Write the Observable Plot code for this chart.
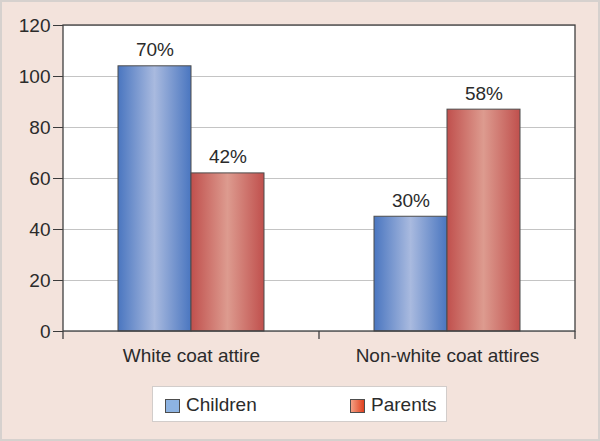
<!DOCTYPE html>
<html><head><meta charset="utf-8">
<script src="https://cdn.jsdelivr.net/npm/d3@7"></script>
<script src="https://cdn.jsdelivr.net/npm/@observablehq/plot@0.6"></script>
<style>
html,body{margin:0;padding:0;}
body{width:600px;height:441px;overflow:hidden;background:#f3e3dc;font-family:"Liberation Sans",Arial,sans-serif;}
#wrap{position:relative;width:600px;height:441px;}
#chart svg{display:block;}
#edge{position:absolute;left:0;top:0;width:600px;height:441px;box-sizing:border-box;border:2px solid #d6d1ce;pointer-events:none;}
#legend{position:absolute;left:152px;top:386px;width:295px;height:36px;box-sizing:border-box;background:#fff;border:1px solid #d2cdcb;}
#legend .sw{position:absolute;top:12px;width:15px;height:14px;box-sizing:border-box;border:1px solid #4d4d4d;}
#legend .lb{position:absolute;top:8px;font-size:19px;line-height:19px;color:#2b2b2b;white-space:nowrap;}
</style>
</head><body>
<div id="wrap">
  <div id="chart"></div>
  <div id="legend"></div>
  <div id="edge"></div>
</div>
<script>
const categories = ["White coat attire", "Non-white coat attires"];
const seriesNames = ["Children", "Parents"];
const childrenValues = [104, 45];
const parentsValues = [62, 87];
const childrenLabels = ["70%", "30%"];
const parentsLabels = ["42%", "58%"];
const yTicks = [0, 20, 40, 60, 80, 100, 120];
const seriesFill = {Children: "url(#gradBlue)", Parents: "url(#gradRed)"};
const legendSwatch = {Children: "#8db3e2", Parents: "linear-gradient(90deg,#f4a084,#e0401e)"};

const data = categories.flatMap((c, i) => [
  {category: c, series: "Children", value: childrenValues[i], label: childrenLabels[i]},
  {category: c, series: "Parents", value: parentsValues[i], label: parentsLabels[i]}
]);

const plot = Plot.plot({
  width: 600, height: 441,
  marginLeft: 62, marginRight: 25, marginTop: 25, marginBottom: 110,
  style: {background: "transparent", fontFamily: "'Liberation Sans', Arial, sans-serif", fontSize: "19px", color: "#2b2b2b", overflow: "visible"},
  fx: {domain: categories, padding: 0, label: null},
  x: {domain: seriesNames, paddingInner: 0, paddingOuter: 0.75, axis: null},
  y: {domain: [0, 120], label: null},
  color: {type: "identity"},
  marks: [
    Plot.gridY(yTicks, {stroke: "#c4c4c4", strokeOpacity: 1}),
    Plot.barY(data, {fx: "category", x: "series", y: "value", fill: d => seriesFill[d.series], stroke: "#4d4d4d", strokeWidth: 1}),
    Plot.text(data, {fx: "category", x: "series", y: "value", text: "label", dy: -16, fontSize: 19, fill: "#2b2b2b"}),
    Plot.axisY(yTicks, {tickSize: 10, tickPadding: 3, fontSize: 19, stroke: "#3a3a3a", fill: "#2b2b2b"}),
    Plot.axisFx({anchor: "bottom", tickSize: 0, tickPadding: 17, fontSize: 19, label: null, fill: "#2b2b2b"})
  ]
});
document.getElementById("chart").appendChild(plot);

// gradients, plot-area background, frame, category boundary ticks
const svg = d3.select(plot);
const defs = svg.insert("defs", ":first-child");
function grad(id, edge, mid) {
  const g = defs.append("linearGradient").attr("id", id).attr("x1", "0").attr("x2", "1").attr("y1", "0").attr("y2", "0");
  g.append("stop").attr("offset", "0%").attr("stop-color", edge);
  g.append("stop").attr("offset", "50%").attr("stop-color", mid);
  g.append("stop").attr("offset", "100%").attr("stop-color", edge);
}
grad("gradBlue", "#4a76c0", "#a9badf");
grad("gradRed", "#c0504d", "#dd9b8f");

const ys = plot.scale("y");
const fxs = plot.scale("fx");
const yBottom = ys.apply(0), yTop = ys.apply(120);
const starts = categories.map(c => fxs.apply(c));
const bw = fxs.bandwidth;
const xl = starts[0], xr = starts[starts.length - 1] + bw;

svg.insert("rect", "g")
  .attr("x", xl).attr("y", yTop).attr("width", xr - xl).attr("height", yBottom - yTop)
  .attr("fill", "#ffffff");
svg.append("rect")
  .attr("x", xl).attr("y", yTop).attr("width", xr - xl).attr("height", yBottom - yTop)
  .attr("fill", "none").attr("stroke", "#404040").attr("stroke-width", 1.3);
svg.append("g").selectAll("line").data([...starts, xr]).join("line")
  .attr("x1", d => d).attr("x2", d => d).attr("y1", yBottom).attr("y2", yBottom + 8)
  .attr("stroke", "#404040").attr("stroke-width", 1.3);

// legend
const legend = document.getElementById("legend");
const legendPos = {Children: [12, 33], Parents: [197, 218]};
seriesNames.forEach(s => {
  const sw = document.createElement("div");
  sw.className = "sw"; sw.style.left = legendPos[s][0] + "px"; sw.style.background = legendSwatch[s];
  const lb = document.createElement("div");
  lb.className = "lb"; lb.style.left = legendPos[s][1] + "px"; lb.textContent = s;
  legend.appendChild(sw); legend.appendChild(lb);
});
</script>
</body></html>
